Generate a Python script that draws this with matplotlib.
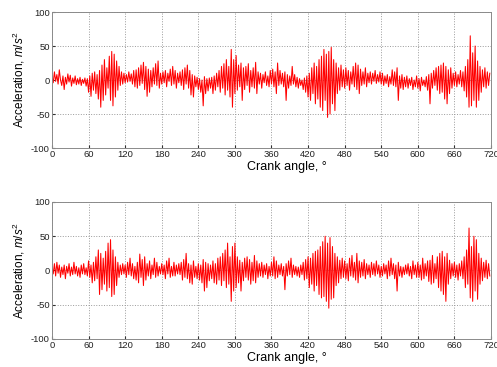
import matplotlib
matplotlib.use("Agg")
import matplotlib.pyplot as plt
import numpy as np

plt.rcParams['font.family'] = ['Liberation Sans', 'DejaVu Sans']
plt.rcParams['mathtext.fontset'] = 'custom'
plt.rcParams['mathtext.rm'] = 'Liberation Sans'
plt.rcParams['mathtext.it'] = 'Liberation Sans:italic'
plt.rcParams['axes.unicode_minus'] = False

# crank angle, one sample every 2 degrees
angle_start = 0
angle_step = 2
x_ticks = [0, 60, 120, 180, 240, 300, 360, 420, 480, 540, 600, 660, 720]
y_ticks = [-100, -50, 0, 50, 100]

# upper panel, acceleration (m/s^2)
accel_top = [
    5, -4, 12, -2, 8, -6, 15, 0, -8, 6,
    -14, 4, -6, 9, -3, 7, -9, 3, -5, 6,
    -7, 2, -6, 4, -8, 1, -5, 3, -9, 2,
    -18, 6, -24, 10, -15, 12, -20, 8, -28, 14,
    -40, 22, -30, 30, -22, 18, -12, 35, -30, 42,
    -38, 38, -25, 28, -15, 20, -8, 12, -6, 10,
    -4, 8, -3, 12, -2, 9, -6, 14, -10, 15,
    -12, 18, -8, 22, -5, 26, -14, 20, -24, 16,
    -18, 14, -10, 18, -6, 24, -8, 28, -12, 10,
    -6, 12, -4, 14, -10, 10, -2, 16, -8, 20,
    -6, 14, -12, 10, -4, 12, -8, 15, -14, 18,
    -6, 22, -12, 14, -22, 8, -25, 6, -10, 4,
    -14, 2, -18, 0, -38, 5, -20, 2, -16, 3,
    -12, 4, -20, 6, -15, 10, -10, 14, -18, 20,
    -12, 24, -22, 30, -15, 20, -25, 45, -40, 30,
    -20, 36, -15, 22, -10, 25, -30, 18, -14, 20,
    -8, 24, -18, 14, -10, 18, -12, 26, -20, 12,
    -6, 10, -12, 8, -4, 12, -8, 6, -10, 14,
    -6, 16, -10, 12, -20, 25, -8, 14, -6, 10,
    -10, 12, -30, 8, -12, 6, -8, 20, -6, 8,
    -10, 4, -12, 2, -8, 0, -14, 3, -18, 6,
    -25, 10, -30, 18, -20, 25, -35, 20, -28, 30,
    -40, 35, -45, 45, -30, 38, -55, 42, -50, 48,
    -35, 30, -45, 25, -20, 18, -15, 22, -10, 15,
    -12, 18, -8, 14, -15, 12, -6, 20, -10, 25,
    -14, 22, -20, 16, -8, 12, -6, 18, -10, 10,
    -4, 12, -6, 10, -2, 14, -5, 8, -3, 12,
    -6, 10, -8, 6, -5, 8, -10, 5, -6, 15,
    -8, 12, -10, 18, -30, 6, -12, 8, -14, 4,
    -10, 6, -12, 2, -8, 4, -14, 0, -10, 6,
    -12, 2, -16, 4, -8, 0, -10, 5, -15, 8,
    -35, 10, -12, 14, -8, 18, -15, 20, -20, 22,
    -18, 25, -28, 20, -35, 15, -20, 18, -12, 10,
    -8, 12, -10, 8, -6, 14, -10, 12, -16, 20,
    -25, 30, -40, 65, -38, 40, -30, 50, -40, 28,
    -30, 20, -18, 15, -10, 18, -12, 12, -8, 10,
]

# lower panel
accel_bottom = [
    6, -5, 10, -8, 12, -4, 8, -10, 5, -6,
    8, -12, 6, -4, 10, -8, 5, -6, 12, -5,
    6, -8, 4, -10, 8, -5, 10, -6, 4, -8,
    14, -10, 8, -18, 12, -15, 20, -12, 30, -35,
    25, -28, 18, -20, 28, -30, 40, -25, 45, -38,
    30, -35, 20, -22, 12, -10, 8, -6, 10, -5,
    8, -10, 12, -6, 18, -8, 10, -12, 6, -14,
    12, -18, 24, -10, 16, -22, 20, -14, 10, -8,
    14, -12, 8, -6, 18, -10, 12, -8, 6, -5,
    10, -6, 8, -12, 14, -5, 18, -10, 6, -8,
    12, -8, 8, -5, 10, -6, 12, -14, 16, -10,
    25, -12, 10, -18, 8, -20, 14, -10, 6, -12,
    10, -14, 8, -18, 16, -30, 12, -25, 10, -15,
    8, -12, 14, -18, 10, -20, 18, -14, 20, -22,
    25, -15, 30, -25, 40, -20, 20, -45, 35, -30,
    40, -25, 20, -18, 15, -30, 12, -15, 18, -10,
    20, -14, 16, -20, 12, -15, 22, -18, 14, -10,
    10, -8, 12, -10, 8, -6, 10, -12, 6, -8,
    12, -8, 20, -12, 14, -10, 8, -6, 10, -8,
    6, -28, 10, -8, 14, -6, 18, -10, 8, -6,
    6, -8, 5, -10, 8, -6, 12, -14, 16, -12,
    20, -25, 18, -20, 25, -30, 28, -22, 30, -35,
    35, -40, 42, -38, 50, -45, 40, -55, 48, -42,
    35, -40, 25, -22, 20, -18, 15, -12, 18, -10,
    14, -12, 10, -15, 18, -8, 22, -10, 12, -14,
    25, -18, 14, -10, 12, -8, 16, -12, 10, -6,
    8, -10, 12, -6, 10, -8, 14, -5, 8, -10,
    6, -8, 10, -5, 8, -12, 14, -8, 18, -6,
    10, -12, 8, -30, 12, -8, 6, -10, 5, -6,
    8, -5, 10, -8, 6, -12, 14, -6, 8, -10,
    12, -10, 8, -14, 18, -12, 10, -8, 14, -16,
    15, -20, 22, -18, 10, -12, 20, -25, 25, -30,
    28, -35, 20, -45, 25, -20, 15, -12, 10, -8,
    12, -10, 8, -14, 10, -8, 14, -12, 20, -25,
    30, -20, 62, -40, 35, -45, 50, -30, 45, -42,
    25, -20, 18, -15, 12, -10, 15, -12, 10, -8,
]


def draw_panel(ax, values):
    x = angle_start + angle_step * np.arange(len(values))
    ax.plot(x, values, color='#ff0000', linewidth=0.75)
    ax.set_xlim(0, 720)
    ax.set_ylim(-100, 100)
    ax.set_xticks(x_ticks)
    ax.set_yticks(y_ticks)
    ax.grid(True, linestyle=':', color='#9a9a9a', linewidth=0.7)
    ax.tick_params(direction='in', length=2, labelsize=6.8, pad=1.5,
                   colors='#333333', labelcolor='#222222')
    for sp in ax.spines.values():
        sp.set_color('#8a8a8a')
        sp.set_linewidth(0.7)
    ax.set_xlabel('Crank angle, \u00b0', fontsize=9, labelpad=0)
    ax.xaxis.set_label_coords(0.535, -0.095)
    ax.set_ylabel('Acceleration, $m/s^2$', fontsize=8.5, labelpad=3)


fig = plt.figure(figsize=(4.97, 3.67), dpi=100)
ax1 = fig.add_axes([0.1046, 0.5967, 0.8833, 0.3706])
ax2 = fig.add_axes([0.1046, 0.0763, 0.8833, 0.3733])
draw_panel(ax1, accel_top)
draw_panel(ax2, accel_bottom)

fig.savefig('out.png', dpi=100)
